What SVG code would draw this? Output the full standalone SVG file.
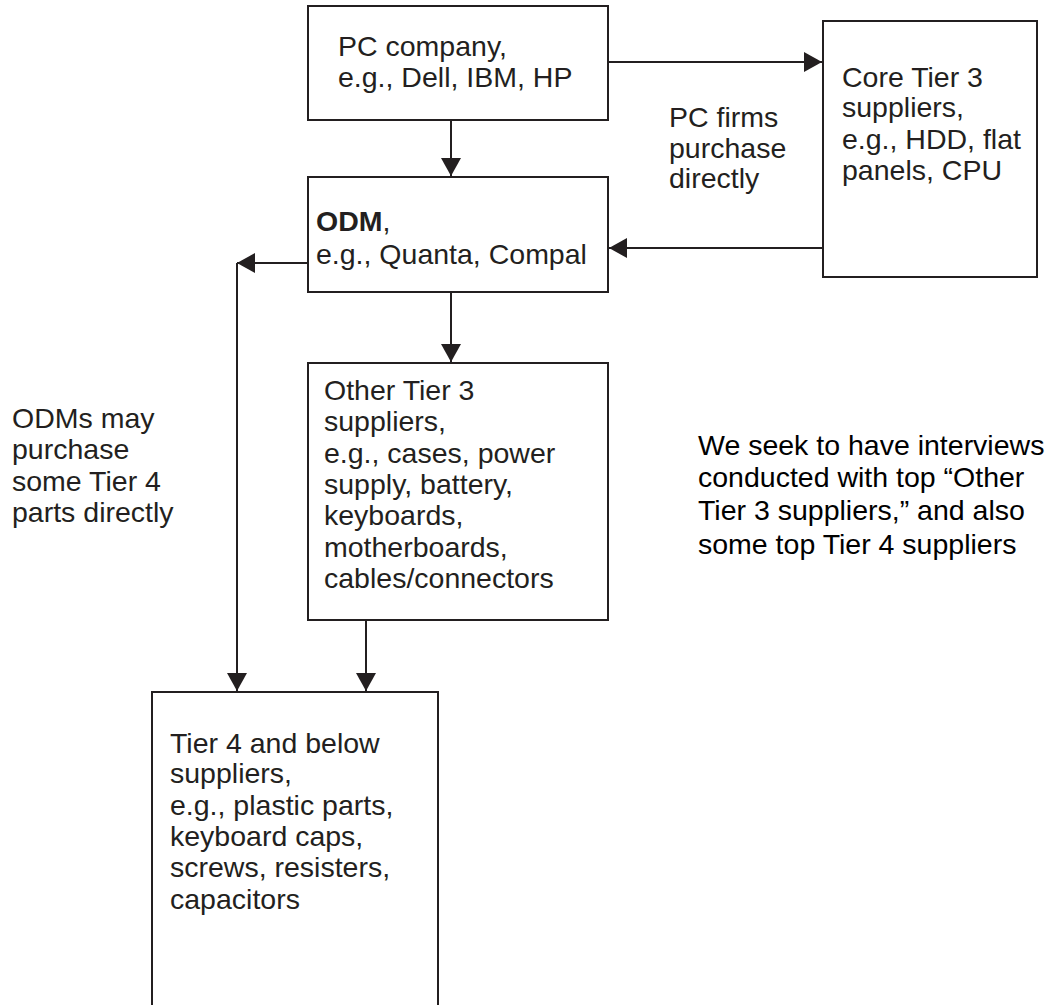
<svg xmlns="http://www.w3.org/2000/svg" width="1051" height="1005" viewBox="0 0 1051 1005">
<style>
  .box { fill: #ffffff; stroke: #231f20; stroke-width: 2; }
  .t { font-family: "Liberation Sans", Arial, Helvetica, sans-serif; font-size: 28.5px; fill: #231f20; }
  .k { fill: #000000; }
  .conn line { stroke: #231f20; stroke-width: 2; fill: none; }
</style>
<defs>
  <marker id="ah" viewBox="0 0 18 20" refX="18" refY="10" markerWidth="18" markerHeight="20" markerUnits="userSpaceOnUse" orient="auto">
    <path d="M0,0 L18,10 L0,20 z" fill="#231f20"/>
  </marker>
</defs>
<rect width="1051" height="1005" fill="#ffffff"/>

<g id="pc-company">
  <rect class="box" x="308" y="6" width="300" height="114"/>
  <text class="t" x="338" y="56">PC company,</text>
  <text class="t" x="338" y="87">e.g., Dell, IBM, HP</text>
</g>

<g id="odm">
  <rect class="box" x="308" y="177" width="300" height="115"/>
  <text class="t" x="316" y="231"><tspan font-weight="bold">ODM</tspan>,</text>
  <text class="t" x="316" y="264">e.g., Quanta, Compal</text>
</g>

<g id="core-tier3">
  <rect class="box" x="823" y="21" width="214" height="256"/>
  <text class="t" x="842" y="87">Core Tier 3</text>
  <text class="t" x="842" y="117">suppliers,</text>
  <text class="t" x="842" y="149">e.g., HDD, flat</text>
  <text class="t" x="842" y="180">panels, CPU</text>
</g>

<g id="other-tier3">
  <rect class="box" x="308" y="363" width="300" height="257"/>
  <text class="t" x="324" y="400">Other Tier 3</text>
  <text class="t" x="324" y="431">suppliers,</text>
  <text class="t" x="324" y="463">e.g., cases, power</text>
  <text class="t" x="324" y="494">supply, battery,</text>
  <text class="t" x="324" y="525">keyboards,</text>
  <text class="t" x="324" y="557">motherboards,</text>
  <text class="t" x="324" y="588">cables/connectors</text>
</g>

<g id="tier4">
  <rect class="box" x="152" y="692" width="286" height="330"/>
  <text class="t" x="170" y="753">Tier 4 and below</text>
  <text class="t" x="170" y="783">suppliers,</text>
  <text class="t" x="170" y="815">e.g., plastic parts,</text>
  <text class="t" x="170" y="846">keyboard caps,</text>
  <text class="t" x="170" y="877">screws, resisters,</text>
  <text class="t" x="170" y="909">capacitors</text>
</g>

<g id="label-pc-firms">
  <text class="t" x="669" y="127">PC firms</text>
  <text class="t" x="669" y="158">purchase</text>
  <text class="t" x="669" y="188">directly</text>
</g>

<g id="label-odms">
  <text class="t" x="12" y="428">ODMs may</text>
  <text class="t" x="12" y="459">purchase</text>
  <text class="t" x="12" y="491">some Tier 4</text>
  <text class="t" x="12" y="522">parts directly</text>
</g>

<g id="note">
  <text class="t k" x="698" y="455">We seek to have interviews</text>
  <text class="t k" x="698" y="487">conducted with top “Other</text>
  <text class="t k" x="698" y="520">Tier 3 suppliers,” and also</text>
  <text class="t k" x="698" y="554">some top Tier 4 suppliers</text>
</g>

<g id="connectors" class="conn">
  <line x1="451" y1="120" x2="451" y2="176" marker-end="url(#ah)"/>
  <line x1="608" y1="62" x2="822" y2="62" marker-end="url(#ah)"/>
  <line x1="823" y1="248" x2="609" y2="248" marker-end="url(#ah)"/>
  <line x1="308" y1="263" x2="237" y2="263" marker-end="url(#ah)"/>
  <line x1="237" y1="263" x2="237" y2="691" marker-end="url(#ah)"/>
  <line x1="451" y1="292" x2="451" y2="362" marker-end="url(#ah)"/>
  <line x1="366" y1="620" x2="366" y2="691" marker-end="url(#ah)"/>
</g>
</svg>
